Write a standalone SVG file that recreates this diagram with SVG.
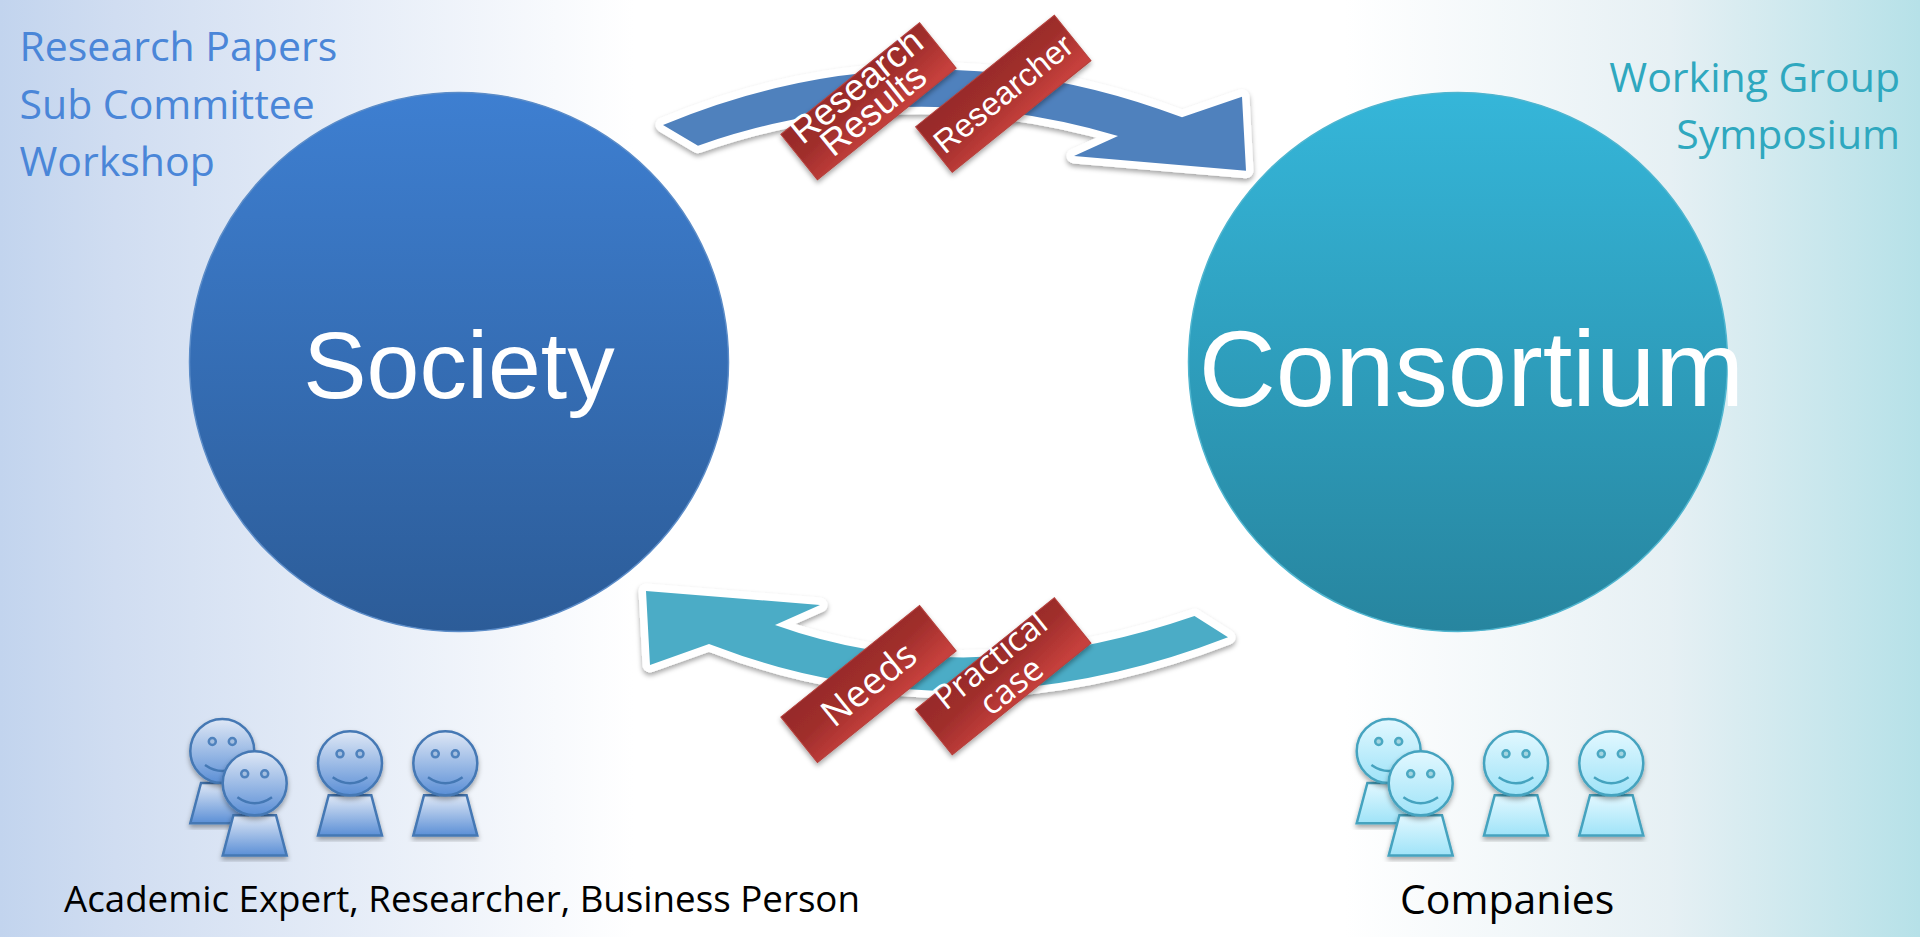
<svg xmlns="http://www.w3.org/2000/svg" xmlns:xlink="http://www.w3.org/1999/xlink" width="1920" height="937" viewBox="0 0 1920 937">
<style>
.side{font-family:"Open Sans","Liberation Sans",sans-serif;font-size:41px}
.cap{font-family:"Open Sans","Liberation Sans",sans-serif;fill:#000}
.big{font-family:"Liberation Sans",Arial,sans-serif;fill:#fff;text-anchor:middle}
.lab{font-family:"Liberation Sans",Arial,sans-serif;fill:#fff;text-anchor:middle}
.lab2{font-family:"Open Sans","Liberation Sans",sans-serif;fill:#fff;text-anchor:middle}
.arrow{stroke:#fff;stroke-width:15;stroke-linejoin:round;paint-order:stroke;filter:url(#sh)}
.tag{fill:url(#tagG);stroke:#b5403c;stroke-width:1}
.pb .h,.pb .b{fill:url(#pbG);stroke:#4478b4;stroke-width:2.5}
.pc .h,.pc .b{fill:url(#pcG);stroke:#45a3bf;stroke-width:2.5}
.pb .f{fill:none;stroke:#4478b4;stroke-width:2.5}
.pc .f{fill:none;stroke:#45a3bf;stroke-width:2.5}
.pb .e{fill:#a5bfe0;stroke:#4f82bd;stroke-width:2.5}
.pc .e{fill:#a5d5e0;stroke:#4ba8c2;stroke-width:2.5}
</style>
<defs>
<linearGradient id="bg" x1="0" x2="1" y1="0" y2="0">
<stop offset="0" stop-color="#c2d4ee"/><stop offset=".06" stop-color="#d0ddf1"/><stop offset=".33" stop-color="#fff"/><stop offset=".7" stop-color="#fff"/><stop offset=".87" stop-color="#e6f0f4"/><stop offset="1" stop-color="#b6e1e8"/>
</linearGradient>
<linearGradient id="cs" x1="0" x2="0" y1="0" y2="1"><stop offset="0" stop-color="#3e7fd1"/><stop offset="1" stop-color="#2c5c98"/></linearGradient>
<linearGradient id="cc" x1="0" x2="0" y1="0" y2="1"><stop offset="0" stop-color="#35b6d9"/><stop offset="1" stop-color="#27859f"/></linearGradient>
<linearGradient id="tagG" x1=".35" y1="0" x2=".65" y2="1"><stop offset="0" stop-color="#982b29"/><stop offset=".4" stop-color="#a02e2c"/><stop offset="1" stop-color="#c6403c"/></linearGradient>
<linearGradient id="pbG" x1="0" x2="0" y1="0" y2="1"><stop offset="0" stop-color="#dfe8f6"/><stop offset="1" stop-color="#5b8fd6"/></linearGradient>
<linearGradient id="pcG" x1="0" x2="0" y1="0" y2="1"><stop offset="0" stop-color="#e2f8ff"/><stop offset="1" stop-color="#9fe3f8"/></linearGradient>
<filter id="sh" x="-10%" y="-10%" width="120%" height="125%"><feDropShadow dx="0" dy="3" stdDeviation="2.5" flood-color="#000" flood-opacity=".35"/></filter>
<g id="personB" class="pb">
<path class="b" d="M-21.3,32 H21.3 L32,72.3 H-32 Z" filter="url(#sh)"/>
<circle class="h" r="32" filter="url(#sh)"/>
<circle class="e" cx="-10" cy="-9.5" r="3.5"/><circle class="e" cx="10" cy="-9.5" r="3.5"/>
<path class="f" d="M-17.3,14 Q0,26 17.3,14"/>
</g>
<g id="personC" class="pc">
<path class="b" d="M-21.3,32 H21.3 L32,72.3 H-32 Z" filter="url(#sh)"/>
<circle class="h" r="32" filter="url(#sh)"/>
<circle class="e" cx="-10" cy="-9.5" r="3.5"/><circle class="e" cx="10" cy="-9.5" r="3.5"/>
<path class="f" d="M-17.3,14 Q0,26 17.3,14"/>
</g>
<rect id="tagR" class="tag" x="-89" y="-29.2" width="178" height="58.4"/>
</defs>
<rect width="1920" height="937" fill="url(#bg)"/>
<g id="node-society"><circle cx="459" cy="362" r="269.5" fill="url(#cs)" stroke="#5b8cc8" stroke-width="1.5"/><text class="big" x="459" y="398" font-size="95">Society</text></g>
<g id="node-consortium"><circle cx="1458" cy="362" r="269.5" fill="url(#cc)" stroke="#4fb5cf" stroke-width="1.5"/><text class="big" x="1471.5" y="406" font-size="106.7">Consortium</text></g>
<g id="connectors">
<path class="arrow" fill="#4f81bd" d="M663,125 Q920,18 1182,117.3 L1242,96.7 L1246,170.7 L1074,156 L1118,136 Q905,73 698,145.7 Z"/>
<path class="arrow" fill="#4bacc6" d="M1228,637.3 Q960,741 709,644 L650,665 L646,591 L820,605 L775,625 Q968,694 1194.5,616 Z"/>
</g>
<g id="tag-research-results"><g filter="url(#sh)"><use href="#tagR" transform="translate(868.5,101.3) rotate(-38.8)"/></g>
<g transform="translate(868.5,101.3) rotate(-38.8)" class="lab" font-size="37"><text x="0" y="-7">Research</text><text x="-1.5" y="22">Results</text></g></g>
<g id="tag-researcher"><g filter="url(#sh)"><use href="#tagR" transform="translate(1003.3,93.7) rotate(-38.8)"/></g>
<text class="lab" font-size="32.5" transform="translate(1003.3,93.7) rotate(-38.8)" y="11">Researcher</text></g>
<g id="tag-needs"><g filter="url(#sh)"><use href="#tagR" transform="translate(868.5,684) rotate(-38.8)"/></g>
<text class="lab2" font-size="37" transform="translate(868.5,684) rotate(-38.8)" y="13">Needs</text></g>
<g id="tag-practical-case"><g filter="url(#sh)"><use href="#tagR" transform="translate(1003.3,676.3) rotate(-38.8)"/></g>
<g class="lab2" font-size="34" transform="translate(1003.3,676.3) rotate(-38.8)"><text y="-9">Practical</text><text y="24">case</text></g></g>
<g id="people-academic">
<use href="#personB" x="222.3" y="751"/><use href="#personB" x="254.7" y="783.3"/><use href="#personB" x="350" y="763.3"/><use href="#personB" x="445.3" y="763.3"/>
</g>
<g id="people-companies">
<use href="#personC" x="1388.7" y="751"/><use href="#personC" x="1420.7" y="783.3"/><use href="#personC" x="1516" y="763.3"/><use href="#personC" x="1611.3" y="763.3"/>
</g>
<g id="text-left" class="side" fill="#4a86d8"><text x="19.5" y="61">Research Papers</text><text x="19.5" y="119">Sub Committee</text><text x="19.5" y="176">Workshop</text></g>
<g id="text-right" class="side" fill="#2fa8bf" text-anchor="end"><text x="1900" y="92">Working Group</text><text x="1900" y="149">Symposium</text></g>
<text class="cap" font-size="36.7" x="64" y="912">Academic Expert, Researcher, Business Person</text>
<text class="cap" font-size="41" x="1400" y="914">Companies</text>
</svg>
